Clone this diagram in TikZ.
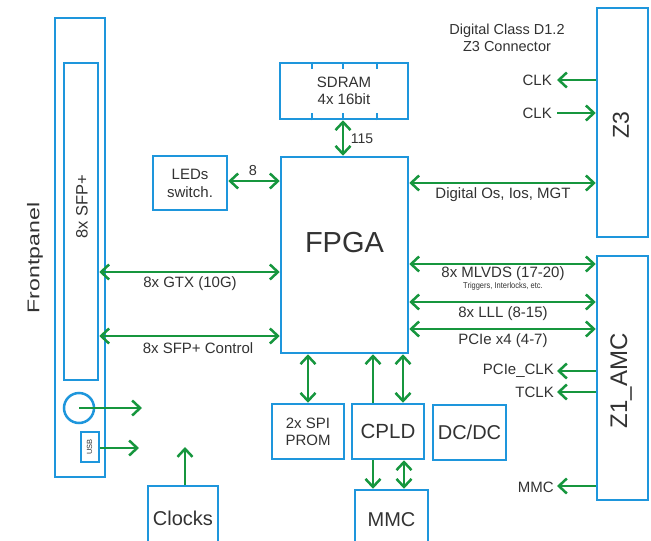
\documentclass[tikz,border=0pt]{standalone}
\usepackage{fontspec}
\setmainfont{Liberation Sans}
\usetikzlibrary{arrows.meta}
\definecolor{bblue}{RGB}{30,150,220}
\definecolor{agreen}{RGB}{22,150,62}
\definecolor{tgray}{RGB}{50,50,50}
\newcommand{\fs}[2]{\fontsize{#1}{#2}\selectfont}
\tikzset{
  box/.style={draw=bblue, line width=2.5pt, inner sep=0pt, align=center, text=tgray},
  lbl/.style={text=tgray, inner sep=0pt, align=center},
  sarrow/.style={draw=agreen, line width=2.5pt, -{Straight Barb[length=8pt,width=15pt]}},
  darrow/.style={draw=agreen, line width=2.5pt, {Straight Barb[length=8pt,width=15pt]}-{Straight Barb[length=8pt,width=15pt]}},
}
\begin{document}
\begin{tikzpicture}[x=1pt,y=-1pt]
\useasboundingbox (0,0) rectangle (651,541);
\clip (0,0) rectangle (651,541);
% front panel
\node[box, minimum width=50pt, minimum height=459pt] (front) at (80,247.5) {};
\node[box, minimum width=34pt, minimum height=317pt] (sfp) at (81,221.5) {};
\node[lbl, rotate=90, font=\fs{16.5}{18}] (sfplbl) at (82,207) {8x SFP+};
\node[lbl, rotate=90, font=\fs{17}{19}] (frontlbl) at (35,258) {\scalebox{1.36}[1]{Frontpanel}};
\node[circle, draw=bblue, line width=2.5pt, minimum size=30pt, inner sep=0pt] (circ) at (79,408) {};
\node[box, line width=2pt, minimum width=18pt, minimum height=30pt] (usb) at (89.5,447) {};
\node[lbl, rotate=90, font=\fs{7.5}{8}] (usblbl) at (89.5,447) {USB};
\coordinate (c1) at (142,408);
\coordinate (c2) at (139,448);
\coordinate (c3) at (185,447);
\draw[sarrow] (circ.center) -- (c1);
\draw[sarrow] (usb.east |- c2) -- (c2);
% boxes
\node[box, minimum width=70pt, minimum height=64pt, font=\fs{20}{24}] (clocks) at (183,518) {Clocks};
\draw[sarrow] (clocks.north -| c3) -- (c3);
\node[box, minimum width=74pt, minimum height=54pt, font=\fs{15}{18}] (leds) at (190,183) {LEDs\\switch.};
\node[box, minimum width=128pt, minimum height=56pt, font=\fs{15}{17}] (sdram) at (344,91) {SDRAM\\4x 16bit};
\foreach \t in {312,343,377}{
  \draw[draw=bblue, line width=2pt] (sdram.north -| \t,0) -- ++(0,7);
  \draw[draw=bblue, line width=2pt] (sdram.south -| \t,0) -- ++(0,-7);
}
\node[box, minimum width=127pt, minimum height=196pt] (fpga) at (344.5,255) {};
\node[lbl, font=\fs{29}{33}] (fpgalbl) at (344.5,243) {FPGA};
\node[box, minimum width=51pt, minimum height=229pt] (z3) at (622.5,122.5) {};
\node[lbl, rotate=90, font=\fs{23}{26}] (z3lbl) at (621,125) {Z3};
\node[box, minimum width=51pt, minimum height=244pt] (z1) at (622.5,378) {};
\node[lbl, rotate=90, font=\fs{24}{26}] (z1lbl) at (621,381) {Z1\_AMC};
\node[box, minimum width=73pt, minimum height=55pt, font=\fs{20}{24}] (dcdc) at (469.5,432.5) {DC/DC};
\node[box, minimum width=72pt, minimum height=55pt, font=\fs{15}{17}] (spi) at (308,431.5) {2x SPI\\PROM};
\node[box, minimum width=72pt, minimum height=55pt, font=\fs{20.5}{24}] (cpld) at (388,431.5) {CPLD};
\node[box, minimum width=73pt, minimum height=60pt, font=\fs{20}{24}] (mmc) at (391.5,520) {MMC};
% top right texts
\node[lbl, font=\fs{14.5}{17}] (dclass) at (507,37.5) {Digital Class D1.2\\Z3 Connector};
% connectors
\draw[darrow] (leds.east |- 0,181) -- (fpga.west |- 0,181);
\node[lbl, font=\fs{14.5}{16}] (l8) at (253,171) {8};
\draw[darrow] (sdram.south -| 343,0) -- (fpga.north -| 343,0);
\node[lbl, font=\fs{14}{16}] (l115) at (362,139) {115};
\draw[darrow] (sfp.east |- 0,272) -- (fpga.west |- 0,272);
\node[lbl, font=\fs{15}{17}] (lgtx) at (190,284) {8x GTX (10G)};
\draw[darrow] (sfp.east |- 0,336) -- (fpga.west |- 0,336);
\node[lbl, font=\fs{15}{17}] (lctl) at (198,348) {8x SFP+ Control};
\draw[darrow] (fpga.east |- 0,183) -- (z3.west |- 0,183);
\node[lbl, font=\fs{15}{17}] (ldig) at (503,195) {Digital Os, Ios, MGT};
\draw[darrow] (fpga.east |- 0,264) -- (z1.west |- 0,264);
\node[lbl, font=\fs{15}{17}] (lmlvds) at (503,273.5) {8x MLVDS (17-20)};
\node[lbl, font=\fs{8.5}{9}] (ltrig) at (503,286) {\scalebox{0.88}[1]{Triggers, Interlocks, etc.}};
\draw[darrow] (fpga.east |- 0,302) -- (z1.west |- 0,302);
\node[lbl, font=\fs{15}{17}] (llll) at (503,313.5) {8x LLL (8-15)};
\draw[darrow] (fpga.east |- 0,329) -- (z1.west |- 0,329);
\node[lbl, font=\fs{15}{17}] (lpcie) at (503,340.5) {PCIe x4 (4-7)};
% Z3 clocks
\coordinate (k1) at (557,80);
\coordinate (k2) at (557,113);
\draw[sarrow] (z3.west |- k1) -- (k1);
\draw[sarrow] (k2) -- (z3.west |- k2);
\node[lbl, font=\fs{15}{17}, anchor=east] (lclk1) at (552,80) {CLK};
\node[lbl, font=\fs{15}{17}, anchor=east] (lclk2) at (552,113) {CLK};
% Z1 outputs
\coordinate (p1) at (557,371);
\coordinate (p2) at (557,392);
\coordinate (p3) at (557,486);
\draw[sarrow] (z1.west |- p1) -- (p1);
\draw[sarrow] (z1.west |- p2) -- (p2);
\draw[sarrow] (z1.west |- p3) -- (p3);
\node[lbl, font=\fs{15}{17}, anchor=east] (lpclk) at (554,371) {PCIe\_CLK};
\node[lbl, font=\fs{15}{17}, anchor=east] (ltclk) at (554,392) {TCLK};
\node[lbl, font=\fs{15}{17}, anchor=east] (lmmc) at (554,487) {MMC};
% FPGA bottom
\draw[darrow] (fpga.south -| 308,0) -- (spi.north -| 308,0);
\draw[sarrow] (cpld.north -| 373,0) -- (fpga.south -| 373,0);
\draw[darrow] (fpga.south -| 403,0) -- (cpld.north -| 403,0);
\draw[sarrow] (cpld.south -| 373,0) -- (mmc.north -| 373,0);
\draw[darrow] (cpld.south -| 404,0) -- (mmc.north -| 404,0);
\end{tikzpicture}
\end{document}
